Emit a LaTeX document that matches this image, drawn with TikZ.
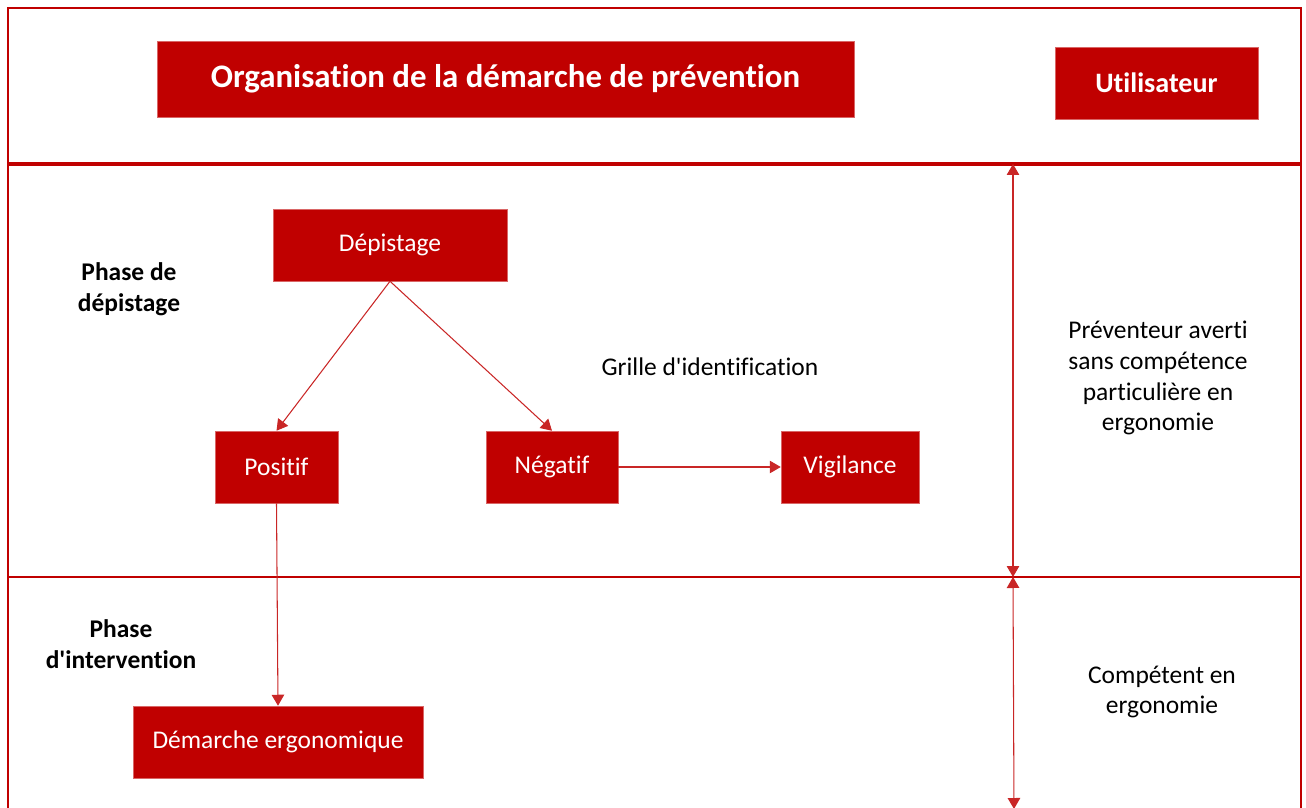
\documentclass[tikz,border=0pt]{standalone}
\usepackage{fontspec}
\setmainfont[Ligatures={NoCommon}]{Carlito}
\usepackage{tikz}
\usetikzlibrary{arrows,arrows.meta,positioning,calc}
\definecolor{rouge}{HTML}{C00000}

\begin{document}
\begin{tikzpicture}
[x=0.02cm,y=-0.02cm,
every node/.style={font=\fontsize{14.5}{17.6}\selectfont},
boite/.style={fill=rouge,draw=rouge!60,line width=.3pt,text=white,inner sep=0pt},
titre/.style={boite,font=\fontsize{18.7}{22}\selectfont\bfseries},
etiq/.style={align=center,text=black},
fleche/.style={draw=rouge!85,line width=.6pt,-{Triangle[length=.22cm,width=.25cm]}},
cadre/.style={draw=rouge,line width=1.2pt}]
\clip (0,0) rectangle (1306,808);
% cadre
\draw[cadre] (8,808) -- (8,8) -- (1301,8) -- (1301,808);
\draw[cadre,line width=2pt] (8,164) -- (1301,164);
\draw[cadre] (8,577) -- (1301,577);
% en-tete
\node[titre,minimum width=13.94cm,minimum height=1.52cm] (title) at (505.5,79) {Organisation de la démarche de prévention};
\node[boite,font=\fontsize{16}{19}\selectfont\bfseries,minimum width=4.06cm,minimum height=1.44cm] (util) at (1156.5,83) {Utilisateur};
% phase de depistage
\node[etiq,font=\fontsize{14.5}{17.6}\selectfont\bfseries] (ph1) at (129,289) {Phase de\\dépistage};
\node[boite,minimum width=4.68cm,minimum height=1.44cm] (dep) at (390,245) {Dépistage};
\node[boite,minimum width=2.46cm,minimum height=1.44cm] (pos) at (276.5,467) {Positif};
\node[boite,minimum width=2.64cm,minimum height=1.44cm] (neg) at (552,467) {Négatif};
\node[boite,minimum width=2.76cm,minimum height=1.44cm] (vig) at (850,467) {Vigilance};
\node[etiq] (grille) at (710,367) {Grille d\textquotesingle identification};
\node[etiq] (prev) at (1158,378) {Préventeur averti\\sans compétence\\particulière en\\ergonomie};
% phase d'intervention
\node[etiq,font=\fontsize{14.5}{17.6}\selectfont\bfseries] (ph2) at (121,644) {Phase\\d\textquotesingle intervention};
\node[boite,minimum width=5.8cm,minimum height=1.44cm] (erg) at (278,742) {Démarche ergonomique};
\node[etiq] (comp) at (1162,692) {Compétent en\\ergonomie};
% fleches
\draw[fleche] (dep.south) -- (pos.north);
\draw[fleche] (dep.south) -- (neg.north);
\draw[fleche] (neg.east) -- (vig.west);
\draw[fleche] (pos.south) -- (erg.north);
\coordinate (h1) at (1013,164);
\coordinate (h2) at (1013,577);
\coordinate (h3) at (1014,809);
\draw[fleche,{Triangle[length=.22cm,width=.25cm]}-{Triangle[length=.22cm,width=.25cm]}] (h1) -- (h2);
\draw[fleche,{Triangle[length=.22cm,width=.25cm]}-{Triangle[length=.22cm,width=.25cm]}] (h2) -- (h3);
\end{tikzpicture}
\end{document}
